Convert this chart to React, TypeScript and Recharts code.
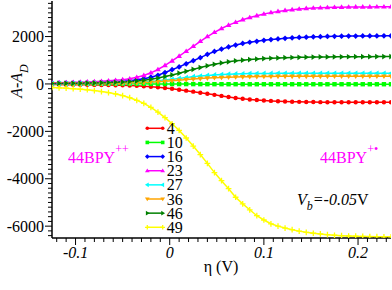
import React from 'react';
import { LineChart, Line, XAxis, YAxis, Legend, Customized } from 'recharts';

const FONT = '"Liberation Serif", "Times New Roman", serif';

const eta = [-0.125,-0.1175,-0.11,-0.1025,-0.095,-0.0875,-0.08,-0.0725,-0.065,-0.0575,-0.05,-0.0425,-0.035,-0.0275,-0.02,-0.0125,-0.005,0.0025,0.01,0.0175,0.025,0.0325,0.04,0.0475,0.055,0.0625,0.07,0.0775,0.085,0.0925,0.1,0.1075,0.115,0.1225,0.13,0.1375,0.145,0.1525,0.16,0.1675,0.175,0.1825,0.19,0.1975,0.205,0.2125,0.22,0.2275,0.235];

const s4 = [-25,-27,-29,-31,-34,-37,-40,-44,-48,-53,-59,-67,-80,-97,-118,-143,-172,-205,-242,-282,-325,-370,-415,-460,-505,-550,-590,-625,-655,-680,-700,-716,-729,-740,-748,-755,-760,-764,-767,-769,-771,-772,-773,-774,-775,-775,-775,-775,-775];
const s10 = [15,15,14,14,13,13,12,12,11,10,9,8,7,5,3,1,-1,-3,-5,-6,-7,-8,-9,-10,-10,-11,-11,-11,-12,-12,-12,-12,-12,-12,-12,-12,-12,-12,-12,-12,-12,-12,-12,-12,-12,-12,-12,-12,-12];
const s16 = [30,33,37,41,46,52,60,70,82,97,115,140,175,220,285,365,480,600,720,850,980,1110,1250,1370,1470,1560,1640,1710,1760,1800,1840,1872,1900,1925,1945,1962,1975,1987,1996,2003,2009,2014,2018,2021,2024,2026,2028,2029,2030];
const s23 = [50,55,60,68,76,86,98,112,130,152,180,220,280,360,470,610,780,970,1170,1380,1590,1800,2000,2180,2340,2480,2600,2710,2800,2880,2950,3010,3060,3100,3135,3160,3185,3200,3215,3225,3235,3240,3245,3248,3250,3252,3254,3255,3256];
const s27 = [10,11,12,14,16,18,21,24,28,33,40,50,63,80,102,130,162,198,235,272,305,335,360,382,399,412,422,430,436,440,443,446,448,449,450,450,450,451,451,451,451,452,452,452,452,452,452,452,452];
const s36 = [8,9,10,11,12,14,16,18,21,25,30,37,46,58,73,91,112,135,160,184,207,228,246,262,275,286,295,302,308,312,315,318,320,321,322,323,323,324,324,324,325,325,325,325,325,325,325,325,325];
const s46 = [20,23,26,30,34,39,45,52,61,72,86,104,128,160,200,250,310,380,455,535,615,690,765,830,885,935,975,1005,1030,1052,1070,1085,1097,1107,1116,1123,1129,1134,1138,1141,1144,1146,1148,1150,1151,1152,1153,1154,1155];
const s49 = [-150,-165,-180,-200,-220,-245,-280,-320,-365,-420,-490,-580,-690,-820,-990,-1190,-1420,-1680,-1960,-2280,-2620,-2980,-3350,-3740,-4080,-4420,-4780,-5060,-5310,-5560,-5740,-5900,-6000,-6080,-6150,-6210,-6260,-6300,-6330,-6360,-6385,-6400,-6415,-6425,-6435,-6440,-6445,-6450,-6450];

const seriesNames = ['4', '10', '16', '23', '27', '36', '46', '49'];
const seriesValues = [s4, s10, s16, s23, s27, s36, s46, s49];
const seriesColors = ['#ff0000', '#00ff00', '#0000ff', '#ff00ff', '#00ffff', '#ffa500', '#008000', '#ffff00'];
const seriesShapes = ['circle', 'square', 'diamond', 'triUp', 'triLeft', 'triDown', 'triRight', 'plus'];

const xMajorTicks = [-0.1, 0, 0.1, 0.2];
const xTickLabels = ['-0.1', '0', '0.1', '0.2'];
const xMinorTicks = [-0.12,-0.11,-0.1,-0.09,-0.08,-0.07,-0.06,-0.05,-0.04,-0.03,-0.02,-0.01,0,0.01,0.02,0.03,0.04,0.05,0.06,0.07,0.08,0.09,0.1,0.11,0.12,0.13,0.14,0.15,0.16,0.17,0.18,0.19,0.2,0.21,0.22,0.23];
const yMajorTicks = [-6000, -4000, -2000, 0, 2000];
const yTickLabels = ['-6000', '-4000', '-2000', '0', '2000'];
const yMinorTicks = [-6400,-6200,-6000,-5800,-5600,-5400,-5200,-5000,-4800,-4600,-4400,-4200,-4000,-3800,-3600,-3400,-3200,-3000,-2800,-2600,-2400,-2200,-2000,-1800,-1600,-1400,-1200,-1000,-800,-600,-400,-200,0,200,400,600,800,1000,1200,1400,1600,1800,2000,2200,2400,2600,2800,3000,3200,3400];

const X_DOMAIN: [number, number] = [-0.125, 0.235];
const Y_DOMAIN: [number, number] = [-6500, 3500];

const data = eta.map((x, i) => {
  const row: Record<string, number> = { eta: x };
  seriesNames.forEach((n, j) => {
    row['s' + n] = seriesValues[j][i];
  });
  return row;
});

function Marker({ shape, cx, cy, color, s = 2.2 }: { shape: string; cx: number; cy: number; color: string; s?: number }) {
  if (cx == null || cy == null || isNaN(cx) || isNaN(cy)) return null;
  const k = s * 1.3;
  switch (shape) {
    case 'circle':
      return <circle cx={cx} cy={cy} r={s} fill={color} />;
    case 'square':
      return <rect x={cx - s} y={cy - s} width={2 * s} height={2 * s} fill={color} />;
    case 'diamond':
      return <polygon points={`${cx},${cy - k} ${cx + k},${cy} ${cx},${cy + k} ${cx - k},${cy}`} fill={color} />;
    case 'triUp':
      return <polygon points={`${cx},${cy - k} ${cx + k},${cy + s * 0.8} ${cx - k},${cy + s * 0.8}`} fill={color} />;
    case 'triDown':
      return <polygon points={`${cx},${cy + k} ${cx + k},${cy - s * 0.8} ${cx - k},${cy - s * 0.8}`} fill={color} />;
    case 'triLeft':
      return <polygon points={`${cx - k},${cy} ${cx + s * 0.8},${cy - k} ${cx + s * 0.8},${cy + k}`} fill={color} />;
    case 'triRight':
      return <polygon points={`${cx + k},${cy} ${cx - s * 0.8},${cy - k} ${cx - s * 0.8},${cy + k}`} fill={color} />;
    case 'plus':
    default:
      return (
        <path d={`M${cx - k},${cy}H${cx + k}M${cx},${cy - k}V${cy + k}`} stroke={color} strokeWidth={1.3} fill="none" />
      );
  }
}

const isMajor = (list: number[], v: number) => list.findIndex((m) => Math.abs(m - v) < 1e-9);

const XTick = (props: any) => {
  const { x, y, payload } = props;
  const idx = isMajor(xMajorTicks, payload.value);
  return (
    <g>
      <line x1={x} x2={x} y1={y} y2={y + (idx >= 0 ? 7 : 4)} stroke="#000" strokeWidth={1} />
      {idx >= 0 && (
        <text x={x} y={y + 20} textAnchor="middle" fontStyle="italic" fontSize={16} fontFamily={FONT} fill="#000">
          {xTickLabels[idx]}
        </text>
      )}
    </g>
  );
};

const YTick = (props: any) => {
  const { x, y, payload } = props;
  const idx = isMajor(yMajorTicks, payload.value);
  return (
    <g>
      <line x1={x - (idx >= 0 ? 7 : 4)} x2={x} y1={y} y2={y} stroke="#000" strokeWidth={1} />
      {idx >= 0 && (
        <text x={x - 8} y={y} dy="0.35em" textAnchor="end" fontSize={16} fontFamily={FONT} fill="#000">
          {yTickLabels[idx]}
        </text>
      )}
    </g>
  );
};

const LegendContent = (props: any) => {
  const payload = ((props.payload || []) as any[])
    .slice()
    .sort((a, b) => seriesNames.indexOf(String(a.value)) - seriesNames.indexOf(String(b.value)));
  return (
    <svg width={60} height={122} style={{ display: 'block', overflow: 'visible' }}>
      {payload.map((entry, i) => {
        const j = seriesNames.indexOf(String(entry.value));
        const color = seriesColors[j] || entry.color;
        const shape = seriesShapes[j];
        const y = 8.3 + i * 14.14;
        return (
          <g key={String(entry.value)}>
            <line x1={7.3} x2={22.7} y1={y} y2={y} stroke={color} strokeWidth={1.5} />
            <Marker shape={shape} cx={7.3} cy={y} color={color} s={1.8} />
            <Marker shape={shape} cx={22.7} cy={y} color={color} s={1.8} />
            <text x={26.7} y={y} dy="0.35em" fontSize={16} fontFamily={FONT} fill="#000">
              {entry.value}
            </text>
          </g>
        );
      })}
    </svg>
  );
};

const Annotations = () => (
  <g fontFamily={FONT}>
    <text x={22} y={81} transform="rotate(-90 22 81)" textAnchor="middle" fontStyle="italic" fontSize={16} fill="#000">
      A-A<tspan dy={6} fontSize={12}>D</tspan>
    </text>
    <text x={221} y={272} textAnchor="middle" fontSize={16} fill="#000">
      η (V)
    </text>
    <text x={68} y={163} fontSize={16} fill="#ff00ff">
      44BPY<tspan dy={-10} fontSize={12}>++</tspan>
    </text>
    <text x={320} y={163} fontSize={16} fill="#ff00ff">
      44BPY<tspan dy={-10} fontSize={12}>+•</tspan>
    </text>
    <text x={297} y={205} fontSize={16} fill="#000">
      <tspan fontStyle="italic">V</tspan>
      <tspan dy={5} fontSize={12} fontStyle="italic">b</tspan>
      <tspan dy={-5} fontStyle="italic">=-0.05</tspan>
      <tspan>V</tspan>
    </text>
  </g>
);

export default function App() {
  return (
    <div style={{ position: 'absolute', left: 0, top: 0, width: 392, height: 290, background: '#fff' }}>
      <LineChart width={392} height={290} data={data} margin={{ top: 1, right: 1, bottom: 0, left: 0 }}>
        <XAxis
          dataKey="eta"
          type="number"
          domain={X_DOMAIN}
          allowDataOverflow
          ticks={xMinorTicks}
          interval={0}
          height={52}
          tickSize={0}
          tickMargin={0}
          tickLine={false}
          tick={<XTick />}
          axisLine={{ stroke: '#000', strokeWidth: 1.5 }}
        />
        <XAxis
          xAxisId="top"
          orientation="top"
          dataKey="eta"
          type="number"
          domain={X_DOMAIN}
          allowDataOverflow
          height={0}
          tick={false}
          tickLine={false}
          axisLine={{ stroke: '#999', strokeWidth: 1.5 }}
        />
        <YAxis
          type="number"
          domain={Y_DOMAIN}
          allowDataOverflow
          ticks={yMinorTicks}
          interval={0}
          width={52}
          tickSize={0}
          tickMargin={0}
          tickLine={false}
          tick={<YTick />}
          axisLine={{ stroke: '#000', strokeWidth: 1.5 }}
        />
        <YAxis
          yAxisId="right"
          orientation="right"
          type="number"
          domain={Y_DOMAIN}
          allowDataOverflow
          width={0}
          tick={false}
          tickLine={false}
          axisLine={{ stroke: '#999', strokeWidth: 1.5 }}
        />
        {seriesNames.map((n, j) => (
          <Line
            key={n}
            type="linear"
            dataKey={'s' + n}
            name={n}
            stroke={seriesColors[j]}
            strokeWidth={1.5}
            isAnimationActive={false}
            dot={(p: any) => (
              <Marker key={`${n}-${p.index}`} shape={seriesShapes[j]} cx={p.cx} cy={p.cy} color={seriesColors[j]} />
            )}
            activeDot={false}
          />
        ))}
        <Legend
          layout="vertical"
          align="center"
          verticalAlign="middle"
          itemSorter={null as any}
          content={<LegendContent />}
          wrapperStyle={{ position: 'absolute', left: 140, top: 120, width: 60, height: 122 }}
        />
        <Customized component={Annotations} />
      </LineChart>
    </div>
  );
}
